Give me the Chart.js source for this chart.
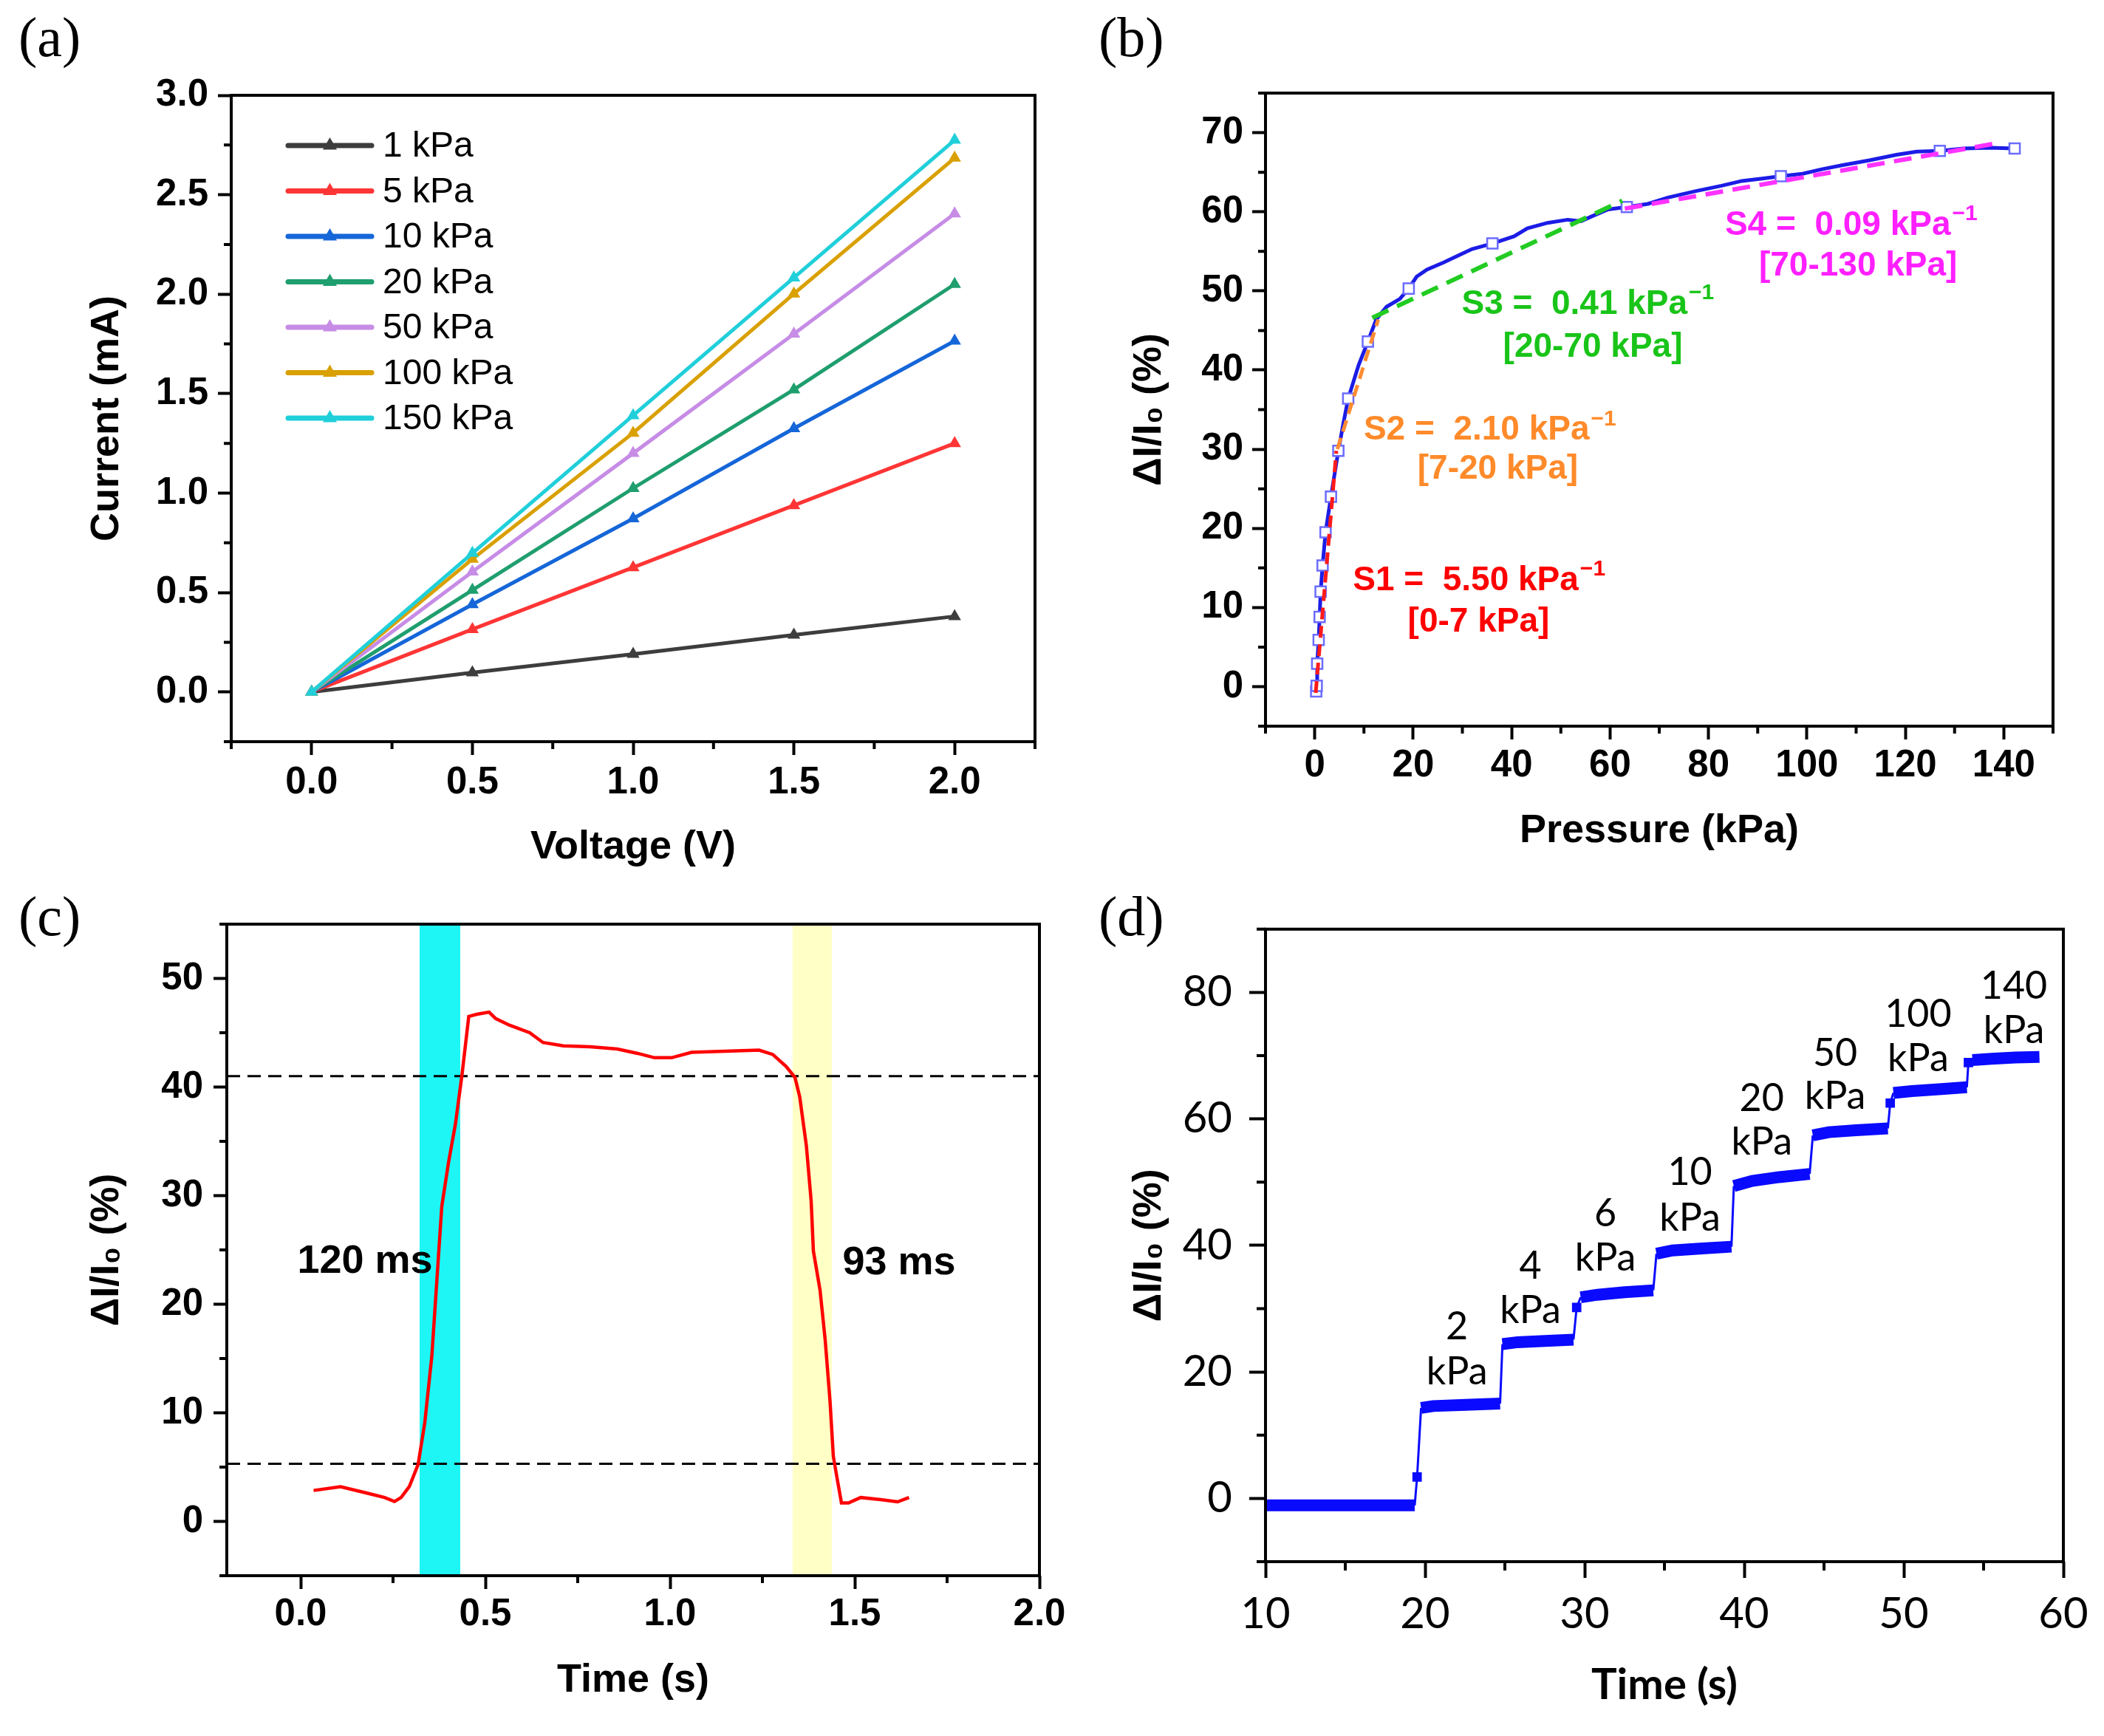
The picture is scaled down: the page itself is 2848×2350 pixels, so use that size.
<!DOCTYPE html>
<html><head><meta charset="utf-8">
<script src="https://cdn.jsdelivr.net/npm/chart.js@4.4.1/dist/chart.umd.min.js"></script>
<style>
html,body{margin:0;padding:0;background:#fff;}
body{width:2848px;height:2350px;position:relative;overflow:hidden;}
canvas{position:absolute;}
.pl{position:absolute;font-family:'Liberation Serif','Times New Roman',serif;font-size:76px;line-height:1;color:#000;}
</style></head><body>
<div class="pl" style="left:25px;top:12px">(a)</div>
<div class="pl" style="left:1487px;top:12px">(b)</div>
<div class="pl" style="left:25px;top:1202px">(c)</div>
<div class="pl" style="left:1487px;top:1202px">(d)</div>
<canvas id="ca" width="1424" height="1200" style="left:0;top:0"></canvas>
<canvas id="cb" width="1424" height="1200" style="left:1424px;top:0"></canvas>
<canvas id="cc" width="1480" height="1150" style="left:0;top:1200px"></canvas>
<canvas id="cd" width="1368" height="1150" style="left:1480px;top:1200px"></canvas>
<script>
// ---------------- DATA ----------------
// (a) I-V curves
const A_VOLT = [0, 0.5, 1.0, 1.5, 2.0];
const A_LABELS = ['1 kPa', '5 kPa', '10 kPa', '20 kPa', '50 kPa', '100 kPa', '150 kPa'];
const A_1KPA = [0, 0.097, 0.19, 0.287, 0.38];
const A_5KPA = [0, 0.315, 0.626, 0.938, 1.25];
const A_10KPA = [0, 0.44, 0.872, 1.325, 1.765];
const A_20KPA = [0, 0.512, 1.024, 1.52, 2.05];
const A_50KPA = [0, 0.604, 1.20, 1.80, 2.405];
const A_100KPA = [0, 0.668, 1.302, 2.002, 2.685];
const A_150KPA = [0, 0.698, 1.39, 2.083, 2.775];
const A_XTICKS = [0, 0.5, 1.0, 1.5, 2.0];
const A_XMINOR = [-0.25, 0.25, 0.75, 1.25, 1.75, 2.25];
const A_YTICKS = [0, 0.5, 1.0, 1.5, 2.0, 2.5, 3.0];
const A_YMINOR = [-0.25, 0.25, 0.75, 1.25, 1.75, 2.25, 2.75];

// (b) sensitivity curve
const B_PRESS = [0.3, 0.4, 0.5, 0.8, 1.0, 1.2, 1.6, 2.2, 3.3, 4.8, 5.8, 6.8, 8.9, 10.8, 12.5, 14.6, 17.3, 19.1, 20.7, 22.8, 26.2, 29.6, 32, 36.1, 40.5, 43.2, 47.3, 51.4, 54.1, 56.2, 59.6, 63.4, 67.7, 71.8, 77.3, 82.7, 86.8, 90.9, 94.7, 99.1, 103.2, 107.3, 112.7, 118.2, 122.3, 127, 131.8, 137.3, 142.2];
const B_RESP = [-0.6, 0.1, 2.9, 5.9, 8.8, 12, 15.3, 19.5, 24, 29.8, 33.2, 36.4, 40.6, 43.6, 46.4, 48, 49, 50.3, 51.8, 52.7, 53.6, 54.6, 55.3, 56, 56.9, 57.9, 58.6, 59, 58.8, 59.4, 60.3, 60.6, 61.0, 61.8, 62.6, 63.3, 63.9, 64.2, 64.5, 64.8, 65.4, 65.9, 66.5, 67.2, 67.6, 67.7, 68.0, 68.1, 68];
const B_MARK_P = [0.3, 0.4, 0.5, 0.8, 1.0, 1.2, 1.6, 2.2, 3.3, 4.8, 6.8, 10.8, 19.1, 36.1, 63.4, 94.7, 127, 142.2];
const B_MARK_R = [-0.6, 0.1, 2.9, 5.9, 8.8, 12, 15.3, 19.5, 24, 29.8, 36.4, 43.6, 50.3, 56, 60.6, 64.5, 67.7, 68];
// linear fits (start/end points)
const B_FIT_NAMES = ['S1', 'S2', 'S3', 'S4'];
const B_FIT_X0 = [0.2, 4.6, 11.7, 63];
const B_FIT_Y0 = [-0.8, 30.0, 46.6, 60.4];
const B_FIT_X1 = [4.4, 12.9, 62.5, 139];
const B_FIT_Y1 = [29.8, 46.4, 61.4, 68.7];
const B_NOTE_TEXT = ['S1 =  5.50 kPa', '[0-7 kPa]', 'S2 =  2.10 kPa', '[7-20 kPa]', 'S3 =  0.41 kPa', '[20-70 kPa]', 'S4 =  0.09 kPa', '[70-130 kPa]'];
const B_NOTE_SUP = ['\u22121', '', '\u22121', '', '\u22121', '', '\u22121', ''];
const B_NOTE_X = [33.4, 33.3, 35.6, 37.2, 55.5, 56.5, 109, 110.4];
const B_NOTE_Y = [13.4, 8.1, 32.4, 27.5, 48.3, 42.9, 58.3, 53.1];
const B_XTICKS = [0, 20, 40, 60, 80, 100, 120, 140];
const B_XMINOR = [-10, 10, 30, 50, 70, 90, 110, 130, 150];
const B_YTICKS = [0, 10, 20, 30, 40, 50, 60, 70];
const B_YMINOR = [-5, 5, 15, 25, 35, 45, 55, 65, 75];

// (c) response time
const C_TIME = [0.035, 0.108, 0.18, 0.227, 0.254, 0.272, 0.294, 0.318, 0.336, 0.355, 0.373, 0.382, 0.40, 0.419, 0.437, 0.455, 0.477, 0.51, 0.528, 0.565, 0.62, 0.656, 0.711, 0.784, 0.857, 0.912, 0.958, 1.004, 1.058, 1.15, 1.241, 1.278, 1.314, 1.338, 1.351, 1.369, 1.382, 1.388, 1.406, 1.42, 1.433, 1.442, 1.452, 1.464, 1.483, 1.516, 1.57, 1.616, 1.647];
const C_RESP = [2.85, 3.2, 2.6, 2.2, 1.83, 2.2, 3.2, 5.25, 9.1, 15.2, 24.4, 29, 33, 36.6, 41.2, 46.5, 46.7, 46.9, 46.3, 45.7, 45, 44.1, 43.8, 43.7, 43.5, 43.1, 42.7, 42.7, 43.2, 43.3, 43.4, 43.0, 41.9, 40.9, 39.1, 34.6, 29.5, 24.9, 21.3, 16.7, 11.1, 6, 4, 1.7, 1.7, 2.2, 2.0, 1.8, 2.2];
const C_THRESHOLDS = [41, 5.3];
const C_BAND_START = [0.322, 1.332];
const C_BAND_END = [0.432, 1.438];
const C_NOTE_TEXT = ['120 ms', '93 ms'];
const C_NOTE_X = [0.174, 1.62];
const C_NOTE_Y = [23.9, 23.8];
const C_XTICKS = [0, 0.5, 1.0, 1.5, 2.0];
const C_XMINOR = [0.25, 0.75, 1.25, 1.75];
const C_YTICKS = [0, 10, 20, 30, 40, 50];
const C_YMINOR = [-5, 5, 15, 25, 35, 45, 55];

// (d) step response
const D_TIME = [10, 19.35, 19.5, 19.75, 20.5, 22.5, 24.7, 24.85, 25.8, 27.5, 29.3, 29.5, 29.75, 30.8, 32.5, 34.3, 34.5, 35.5, 37.2, 39.2, 39.35, 40.5, 42.2, 44.1, 44.3, 45.3, 47, 49.0, 49.15, 49.35, 50.5, 52.2, 53.95, 54.05, 54.3, 55.5, 57, 58.5];
const D_RESP = [-1.1, -1.1, 3.4, 14.3, 14.6, 14.8, 15.0, 24.4, 24.7, 24.9, 25.1, 30.2, 31.8, 32.2, 32.6, 32.9, 38.7, 39.2, 39.5, 39.8, 49.4, 50.2, 50.8, 51.3, 57.4, 57.9, 58.2, 58.5, 62.5, 64.1, 64.4, 64.7, 65.0, 68.9, 69.3, 69.5, 69.7, 69.8];
const D_MARK_T = [19.5, 29.5, 49.15, 54.05];
const D_MARK_R = [3.4, 30.2, 62.5, 68.9];
const D_STEP_VALUE = ['2', '4', '6', '10', '20', '50', '100', '140'];
const D_STEP_X = [22.0, 26.6, 31.3, 36.6, 41.1, 45.7, 50.9, 56.9];
const D_STEP_Y_NUM = [27.1, 36.7, 45.0, 51.5, 63.2, 70.3, 76.5, 80.9];
const D_STEP_Y_UNIT = [20.0, 29.7, 38.0, 44.3, 56.3, 63.5, 69.5, 73.9];
const D_XTICKS = [10, 20, 30, 40, 50, 60];
const D_XMINOR = [15, 25, 35, 45, 55];
const D_YTICKS = [0, 20, 40, 60, 80];
const D_YMINOR = [-10, 10, 30, 50, 70, 90];

// ---------------- STYLE ----------------
const A_COLORS = ['#3d3d3d', '#ff3535', '#1566d8', '#1f9e6e', '#c68ce6', '#d9a000', '#20cfda'];
const B_FIT_COLORS = ['#ff1a1a', '#ff8c33', '#22cc22', '#ff33ff'];
const B_NOTE_COLORS = ['#ff0000', '#ff0000', '#ff8a2a', '#ff8a2a', '#19c419', '#19c419', '#ff20ff', '#ff20ff'];
const C_BAND_COLORS = ['#1ef6f6', '#ffffc6'];
const ARIAL = "'Liberation Sans', Arial, sans-serif";
const LATO = "Lato, Carlito, 'Liberation Sans', sans-serif";

const pts = (xs, ys) => xs.map((x, i) => ({x: x, y: ys[i]}));

// ---------------- PLUGINS ----------------
const framePlugin = {
  id: 'frame',
  afterDraw(chart, args, o) {
    const {ctx, chartArea: a} = chart;
    const x = chart.scales.x, y = chart.scales.y;
    ctx.save();
    ctx.strokeStyle = '#000';
    ctx.lineCap = 'butt';
    ctx.lineWidth = o.tickWidth;
    ctx.beginPath();
    (o.minorX || []).forEach(v => { const p = x.getPixelForValue(v); ctx.moveTo(p, a.bottom); ctx.lineTo(p, a.bottom + o.minorLen); });
    (o.minorY || []).forEach(v => { const p = y.getPixelForValue(v); ctx.moveTo(a.left, p); ctx.lineTo(a.left - o.minorLen, p); });
    ctx.stroke();
    ctx.lineWidth = o.width;
    ctx.strokeRect(a.left, a.top, a.right - a.left, a.bottom - a.top);
    ctx.restore();
  }
};

const bandPlugin = {
  id: 'bands',
  beforeDatasetsDraw(chart, args, o) {
    if (!o.start) return;
    const {ctx, chartArea: a} = chart;
    const x = chart.scales.x;
    ctx.save();
    o.start.forEach((s, i) => {
      const p0 = x.getPixelForValue(s), p1 = x.getPixelForValue(o.end[i]);
      ctx.fillStyle = o.colors[i];
      ctx.fillRect(p0, a.top, p1 - p0, a.bottom - a.top);
    });
    ctx.restore();
  }
};

const notesPlugin = {
  id: 'notes',
  afterDatasetsDraw(chart, args, o) {
    if (!o.items) return;
    const {ctx} = chart;
    const x = chart.scales.x, y = chart.scales.y;
    o.items.forEach(it => {
      const px = x.getPixelForValue(it.x), py = y.getPixelForValue(it.y);
      ctx.save();
      ctx.fillStyle = it.color;
      ctx.textBaseline = 'middle';
      ctx.textAlign = 'left';
      ctx.font = o.font;
      const w1 = ctx.measureText(it.text).width;
      let w2 = 0;
      if (it.sup) { ctx.font = o.supFont; w2 = ctx.measureText(it.sup).width + 2; }
      const sx = px - (w1 + w2) / 2;
      ctx.font = o.font;
      ctx.fillText(it.text, sx, py);
      if (it.sup) { ctx.font = o.supFont; ctx.fillText(it.sup, sx + w1 + 2, py - o.supRaise); }
      ctx.restore();
    });
  }
};

const legendPlugin = {
  id: 'insideLegend',
  afterDatasetsDraw(chart, args, o) {
    if (!o.show) return;
    const {ctx, chartArea: a} = chart;
    chart.data.datasets.forEach((ds, i) => {
      const yy = a.top + o.top + i * o.gap;
      const x0 = a.left + o.x0, x1 = a.left + o.x1, xm = (x0 + x1) / 2;
      ctx.save();
      ctx.strokeStyle = ds.borderColor;
      ctx.lineWidth = 7;
      ctx.lineCap = 'round';
      ctx.beginPath(); ctx.moveTo(x0, yy); ctx.lineTo(x1, yy); ctx.stroke();
      ctx.fillStyle = ds.borderColor;
      const r = 11;
      ctx.beginPath();
      ctx.moveTo(xm, yy - r);
      ctx.lineTo(xm + r * 0.866, yy + r * 0.5);
      ctx.lineTo(xm - r * 0.866, yy + r * 0.5);
      ctx.closePath(); ctx.fill();
      ctx.fillStyle = '#000';
      ctx.font = o.font;
      ctx.textBaseline = 'middle';
      ctx.textAlign = 'left';
      ctx.fillText(ds.label, a.left + o.tx, yy + 2);
      ctx.restore();
    });
  }
};

Chart.register(framePlugin, bandPlugin, notesPlugin, legendPlugin);

function axis(o) {
  return {
    type: 'linear', min: o.min, max: o.max,
    afterBuildTicks: s => { s.ticks = o.ticks.map(v => ({value: v})); },
    afterFit: s => { if (o.w != null) s.width = o.w; if (o.h != null) s.height = o.h; },
    grid: {display: true, drawOnChartArea: false, drawTicks: true, tickLength: o.tl, tickWidth: 4, tickColor: '#000', color: '#000'},
    border: {display: false},
    ticks: {autoSkip: false, maxRotation: 0, minRotation: 0, padding: o.pad, color: '#000', font: o.font, callback: o.fmt},
    title: {display: true, text: o.title, color: '#000', font: o.tfont, padding: o.tpad}
  };
}

function baseOptions(pad, scales, plugins) {
  return {
    responsive: false, animation: false, events: [],
    layout: {padding: pad},
    scales: scales,
    plugins: Object.assign({legend: {display: false}, tooltip: {enabled: false}}, plugins)
  };
}

const TICKF = {family: ARIAL, size: 51, weight: 'bold'};
const TITLEF = {family: ARIAL, size: 54, weight: 'bold'};
const f1 = v => v.toFixed(1);
const f0 = v => String(Math.round(v));
const YTITLE = '\u0394I/I\u2080 (%)';

// ---------------- (a) ----------------
const A_SERIES = [A_1KPA, A_5KPA, A_10KPA, A_20KPA, A_50KPA, A_100KPA, A_150KPA];
new Chart(document.getElementById('ca'), {
  type: 'line',
  data: {datasets: A_SERIES.map((s, i) => ({
    label: A_LABELS[i], data: pts(A_VOLT, s), order: A_SERIES.length - i,
    borderColor: A_COLORS[i], backgroundColor: A_COLORS[i], borderWidth: 5,
    pointStyle: 'triangle', pointRadius: 10, pointBorderWidth: 0, tension: 0
  }))},
  options: baseOptions({top: 129, right: 23, left: 0, bottom: 0}, {
    x: axis({min: -0.25, max: 2.25, ticks: A_XTICKS, h: 196, tl: 18, pad: 7, font: TICKF, fmt: f1,
      title: 'Voltage (V)', tfont: TITLEF, tpad: {top: 0, bottom: 20}}),
    y: axis({min: -0.25, max: 3.0, ticks: A_YTICKS, w: 313, tl: 18, pad: 13, font: TICKF, fmt: f1,
      title: 'Current (mA)', tfont: TITLEF, tpad: {top: 113, bottom: 0}})
  }, {
    frame: {width: 4, tickWidth: 4, minorLen: 10, minorX: A_XMINOR, minorY: A_YMINOR},
    insideLegend: {show: true, top: 68, gap: 61.5, x0: 77, x1: 190, tx: 205, font: "48px " + ARIAL}
  })
});

// ---------------- (b) ----------------
const bFits = B_FIT_NAMES.map((n, i) => ({
  label: n, data: [{x: B_FIT_X0[i], y: B_FIT_Y0[i]}, {x: B_FIT_X1[i], y: B_FIT_Y1[i]}],
  borderColor: B_FIT_COLORS[i], borderWidth: i < 2 ? 5 : 6, borderDash: i < 2 ? [16, 9] : [24, 13],
  pointRadius: 0, tension: 0, order: 1
}));
new Chart(document.getElementById('cb'), {
  type: 'line',
  data: {datasets: bFits.concat([
    {label: 'markers', data: pts(B_MARK_P, B_MARK_R), showLine: false, pointStyle: 'rect', pointRadius: 10,
      pointBackgroundColor: '#ffffff', pointBorderColor: '#6b6bff', pointBorderWidth: 2.5, order: 2},
    {label: 'response', data: pts(B_PRESS, B_RESP), borderColor: '#1c1ce6', borderWidth: 5, pointRadius: 0, tension: 0, order: 3}
  ])},
  options: baseOptions({top: 126, right: 69, left: 0, bottom: 0}, {
    x: axis({min: -10, max: 150, ticks: B_XTICKS, h: 217, tl: 18, pad: 5, font: TICKF, fmt: f0,
      title: 'Pressure (kPa)', tfont: TITLEF, tpad: {top: 0, bottom: 42}}),
    y: axis({min: -5, max: 75, ticks: B_YTICKS, w: 289, tl: 18, pad: 12, font: TICKF, fmt: f0,
      title: YTITLE, tfont: TITLEF, tpad: {top: 100, bottom: 0}})
  }, {
    frame: {width: 4, tickWidth: 4, minorLen: 10, minorX: B_XMINOR, minorY: B_YMINOR},
    notes: {font: "bold 46px " + ARIAL, supFont: "bold 30px " + ARIAL, supRaise: 15,
      items: B_NOTE_TEXT.map((t, i) => ({text: t, sup: B_NOTE_SUP[i], x: B_NOTE_X[i], y: B_NOTE_Y[i], color: B_NOTE_COLORS[i]}))}
  })
});

// ---------------- (c) ----------------
new Chart(document.getElementById('cc'), {
  type: 'line',
  data: {datasets: [
    {label: 'response', data: pts(C_TIME, C_RESP), borderColor: '#ff0000', borderWidth: 4.5, pointRadius: 0, tension: 0},
  ].concat(C_THRESHOLDS.map(v => ({label: 'level ' + v, data: [{x: -0.2, y: v}, {x: 2.0, y: v}],
      borderColor: '#000', borderWidth: 3, borderDash: [18, 10], pointRadius: 0})))},
  options: baseOptions({top: 51, right: 73, left: 0, bottom: 0}, {
    x: axis({min: -0.2, max: 2.0, ticks: C_XTICKS, h: 217, tl: 18, pad: 4, font: TICKF, fmt: f1,
      title: 'Time (s)', tfont: TITLEF, tpad: {top: 0, bottom: 42}}),
    y: axis({min: -5, max: 55, ticks: C_YTICKS, w: 307, tl: 18, pad: 14, font: TICKF, fmt: f0,
      title: YTITLE, tfont: TITLEF, tpad: {top: 113, bottom: 0}})
  }, {
    frame: {width: 4, tickWidth: 4, minorLen: 10, minorX: C_XMINOR, minorY: C_YMINOR},
    bands: {start: C_BAND_START, end: C_BAND_END, colors: C_BAND_COLORS},
    notes: {font: "bold 54px " + ARIAL, supFont: "bold 30px " + ARIAL, supRaise: 15,
      items: C_NOTE_TEXT.map((t, i) => ({text: t, x: C_NOTE_X[i], y: C_NOTE_Y[i], color: '#000'}))}
  })
});

// ---------------- (d) ----------------
const dNotes = [];
D_STEP_VALUE.forEach((v, i) => {
  dNotes.push({text: v, x: D_STEP_X[i], y: D_STEP_Y_NUM[i], color: '#000'});
  dNotes.push({text: 'kPa', x: D_STEP_X[i], y: D_STEP_Y_UNIT[i], color: '#000'});
});
const DTICKF = {family: LATO, size: 58, weight: 'normal'};
new Chart(document.getElementById('cd'), {
  type: 'line',
  data: {datasets: [
    {label: 'marks', data: pts(D_MARK_T, D_MARK_R), showLine: false, pointStyle: 'rect', pointRadius: 9,
      pointBackgroundColor: '#0a0aff', pointBorderWidth: 0},
    {label: 'response', data: pts(D_TIME, D_RESP), borderColor: '#0a0aff', borderWidth: 16, borderCapStyle: 'butt',
      borderJoinStyle: 'miter', pointRadius: 0, tension: 0,
      segment: {borderWidth: c => (c.p1.parsed.x - c.p0.parsed.x > 0.5 ? 16 : 3)}}
  ]},
  options: baseOptions({top: 54, right: 55, left: 0, bottom: 0}, {
    x: axis({min: 10, max: 60, ticks: D_XTICKS, h: 236, tl: 22, pad: 14, font: DTICKF, fmt: f0,
      title: 'Time (s)', tfont: {family: LATO, size: 58, weight: 'bold'}, tpad: {top: 0, bottom: 34}}),
    y: axis({min: -10, max: 90, ticks: D_YTICKS, w: 233, tl: 22, pad: 23, font: DTICKF, fmt: f0,
      title: YTITLE, tfont: TITLEF, tpad: {top: 44, bottom: 0}})
  }, {
    frame: {width: 4, tickWidth: 4, minorLen: 12, minorX: D_XMINOR, minorY: D_YMINOR},
    notes: {font: "52px " + LATO, supFont: "30px " + LATO, supRaise: 15, items: dNotes}
  })
});
</script>
</body></html>
